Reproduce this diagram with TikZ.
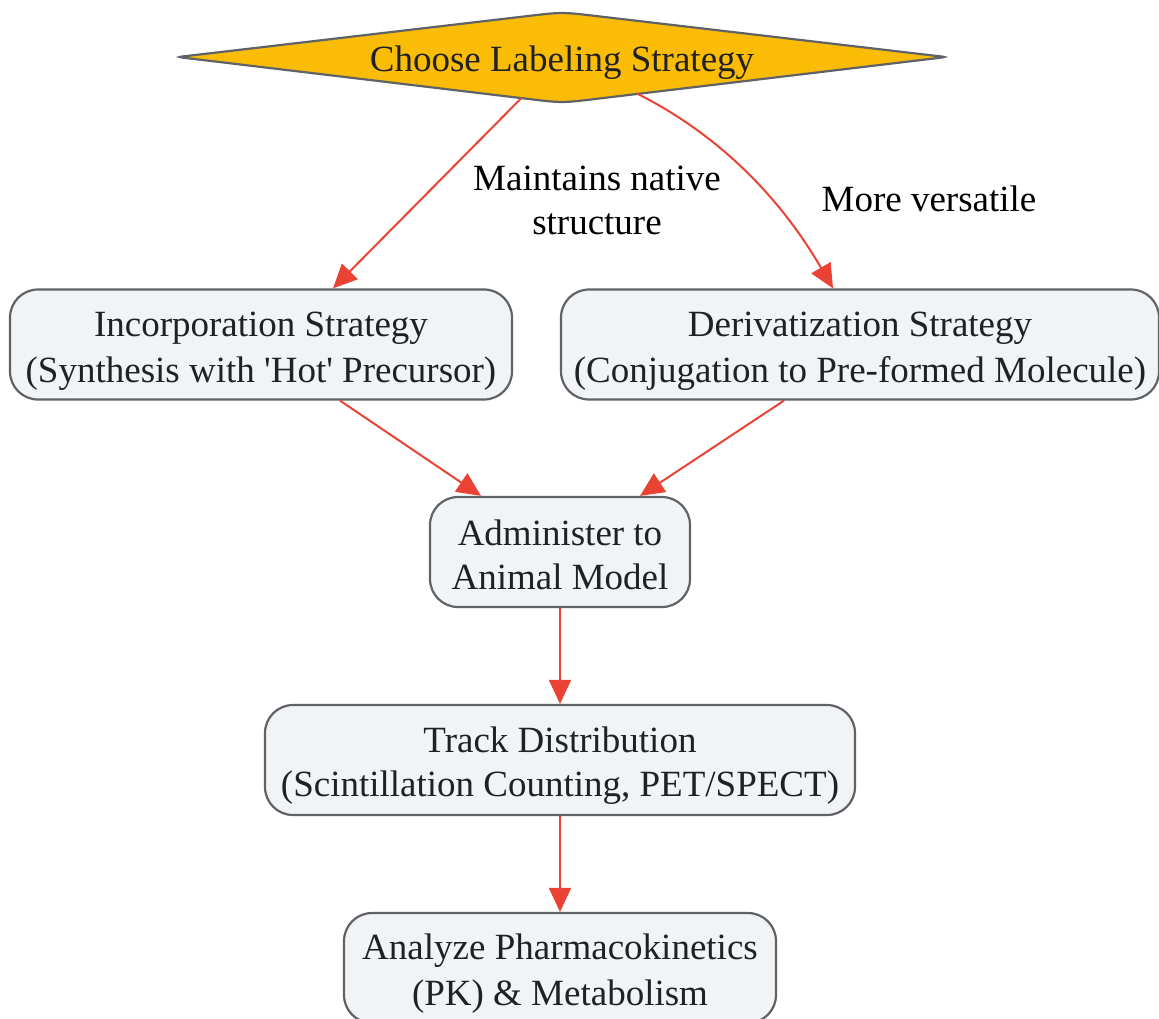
\documentclass[tikz,border=0pt]{standalone}
\usepackage{fontspec}
\setmainfont{Liberation Serif}[Ligatures=TeXOff]
\usetikzlibrary{arrows.meta,shapes.geometric}
\definecolor{boxfill}{HTML}{F1F3F4}
\definecolor{boxline}{HTML}{5F6368}
\definecolor{txt}{HTML}{202124}
\definecolor{arrowc}{HTML}{EA4335}
\definecolor{decfill}{HTML}{FBBC05}
\newcommand\lstrut{\rule[-7pt]{0pt}{44pt}}
\begin{document}
\begin{tikzpicture}[x=1pt,y=-1pt,
  every node/.style={font=\fontsize{37}{44}\selectfont},
  box/.style={draw=boxline, fill=boxfill, line width=2.2pt, rounded corners=28pt,
    minimum height=110pt, align=center, text=txt, inner sep=0pt},
  decshape/.style={draw=boxline, fill=decfill, line width=2.2pt},
  decnode/.style={diamond, aspect=8.44, minimum width=768pt, minimum height=91pt,
    inner sep=0pt, text=txt},
  arr/.style={draw=arrowc, line width=2pt, -{Triangle[length=24pt,width=22pt]}},
  lab/.style={align=center, text=black}]
\useasboundingbox (0,0) rectangle (1159,1018);
% decision diamond outline
\path[decshape] (527.2,16.1) .. controls (562,12) .. (596.8,16.1) -- (938.1,56.1)
  .. controls (946,57) .. (938.1,58) -- (596.8,98.8) .. controls (562,103) .. (527.2,98.8)
  -- (185.9,58) .. controls (178,57) .. (185.9,56.1) -- cycle;
\node[decnode] (d) at (562,57) {\lstrut Choose Labeling Strategy};
% boxes
\node[box, minimum width=502pt] (inc) at (261,344.5) {\lstrut Incorporation Strategy\\\lstrut(Synthesis with 'Hot' Precursor)};
\node[box, minimum width=598pt] (der) at (860,344.5) {\lstrut Derivatization Strategy\\\lstrut(Conjugation to Pre-formed Molecule)};
\node[box, minimum width=260pt] (adm) at (560,552) {\lstrut Administer to\\\lstrut Animal Model};
\node[box, minimum width=590pt] (trk) at (560,760) {\lstrut Track Distribution\\\lstrut(Scintillation Counting, PET/SPECT)};
\node[box, minimum width=432pt] (ana) at (560,968) {\lstrut Analyze Pharmacokinetics\\\lstrut(PK) \& Metabolism};
% labels
\node[lab] (l1) at (597,200) {Maintains native\\structure};
\node[lab] (l2) at (929,199) {More versatile};
% connectors
\draw[arr] (d) -- ([xshift=72pt]inc.north);
\draw[arr] (d.-26) .. controls (700,125) and (770,180) .. ([xshift=-27pt]der.north);
\draw[arr] ([xshift=79pt]inc.south) -- ([xshift=-79pt]adm.north);
\draw[arr] ([xshift=-76pt]der.south) -- ([xshift=80pt]adm.north);
\draw[arr] (adm) -- (trk);
\draw[arr] (trk) -- (ana);
\end{tikzpicture}
\end{document}
